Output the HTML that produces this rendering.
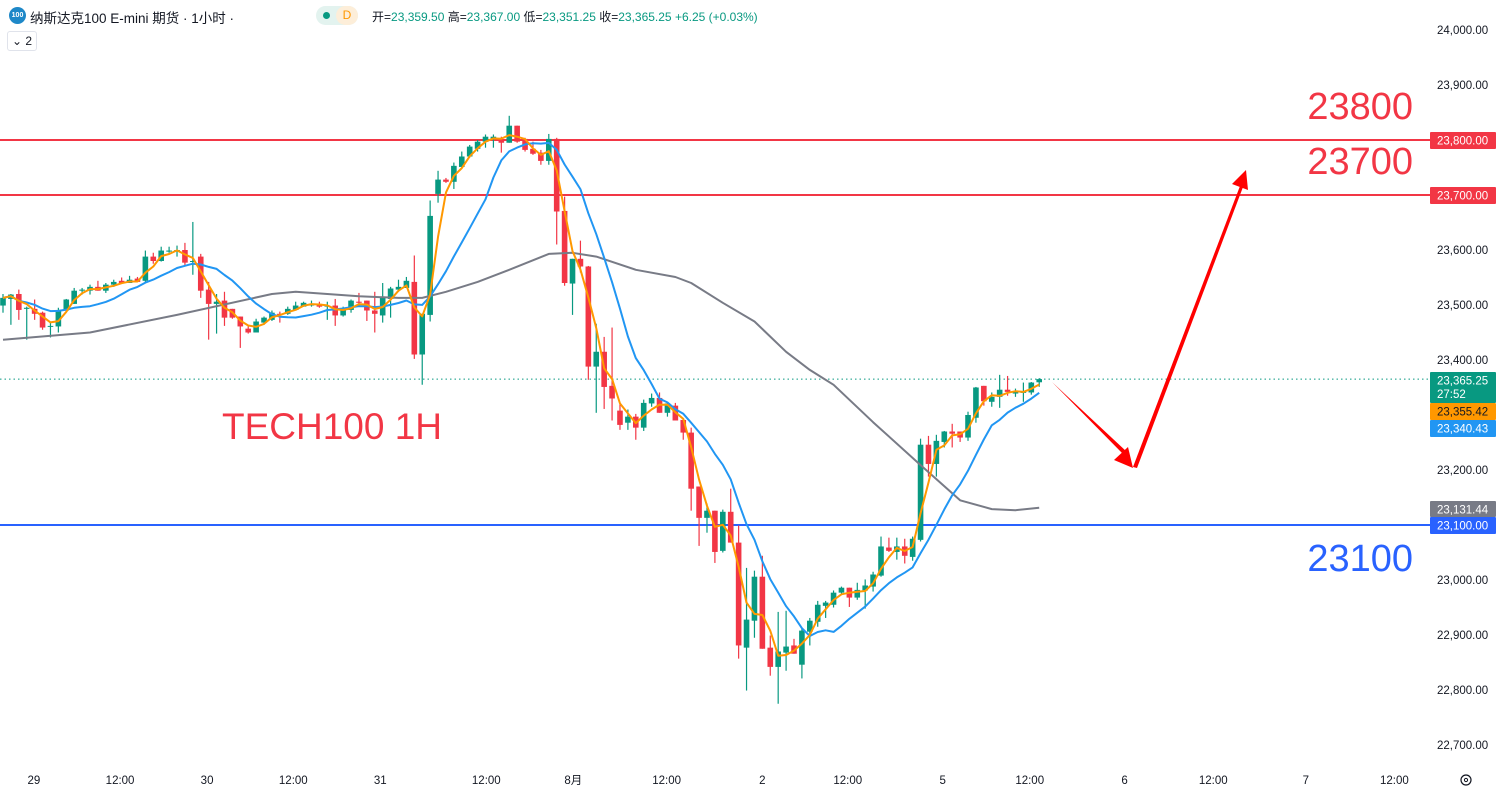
<!DOCTYPE html>
<html><head><meta charset="utf-8">
<style>
html,body{margin:0;padding:0;background:#fff;}
body{width:1498px;height:794px;overflow:hidden;position:relative;font-family:"Liberation Sans","Noto Sans CJK SC",sans-serif;}
svg{position:absolute;left:0;top:0;}
.hdr{position:absolute;left:0;top:0;height:30px;font-size:13px;color:#131722;white-space:nowrap;}
</style></head>
<body>
<svg id="chart" width="1498" height="794" xmlns="http://www.w3.org/2000/svg"></svg>

<div class="hdr">
  <div style="position:absolute;left:9px;top:7px;width:17px;height:17px;border-radius:50%;background:#1e88c8;color:#fff;font-size:7px;line-height:17px;text-align:center;font-weight:bold;">100</div>
  <div style="position:absolute;left:30px;top:7px;font-size:13.5px;">纳斯达克100 E-mini 期货 · 1小时 ·</div>
  <div style="position:absolute;left:316px;top:6px;width:42px;height:19px;border-radius:10px;background:#e3f3ef;">
    <div style="position:absolute;left:7px;top:6px;width:7px;height:7px;border-radius:50%;background:#089981;"></div>
    <div style="position:absolute;left:20px;top:0;width:22px;height:19px;border-radius:10px;background:#fdeed9;color:#ff9800;font-size:12px;line-height:19px;text-align:center;">D</div>
  </div>
  <div style="position:absolute;left:372px;top:8px;font-size:12px;">开=<span style="color:#089981">23,359.50</span> 高=<span style="color:#089981">23,367.00</span> 低=<span style="color:#089981">23,351.25</span> 收=<span style="color:#089981">23,365.25</span> <span style="color:#089981">+6.25 (+0.03%)</span></div>
</div>
<div style="position:absolute;left:7px;top:31px;width:28px;height:18px;border:1px solid #e0e3eb;border-radius:3px;font-size:12px;line-height:18px;text-align:center;color:#131722;">⌄ 2</div>

<script>
// ---- data ----
const opens=[23499,23511,23520,23493,23493,23486,23461,23461,23490,23502,23526,23526,23533,23526,23537,23544,23540,23548,23544,23588,23580,23597,23599,23600,23579,23588,23528,23502,23508,23493,23479,23457,23450,23468,23473,23484,23484,23491,23497,23499,23502,23497,23499,23481,23491,23506,23508,23490,23481,23511,23528,23531,23542,23410,23482,23702,23728,23724,23751,23770,23784,23797,23802,23800,23795,23826,23802,23784,23777,23762,23802,23671,23539,23584,23570,23388,23415,23353,23308,23286,23297,23277,23321,23331,23304,23317,23291,23268,23170,23113,23126,23053,23124,23068,22877,22926,23006,22877,22842,22868,22881,22846,22906,22924,22953,22955,22977,22986,22968,22981,22988,23008,23059,23051,23061,23042,23073,23246,23211,23251,23270,23270,23259,23295,23353,23324,23333,23346,23339,23341,23341,23359.5];
const closes=[23513,23519,23491,23495,23484,23459,23462,23491,23510,23526,23528,23533,23526,23537,23542,23540,23546,23542,23588,23580,23599,23599,23600,23577,23580,23526,23502,23506,23477,23477,23461,23450,23470,23477,23486,23482,23493,23499,23504,23502,23497,23499,23481,23493,23508,23504,23490,23484,23515,23530,23533,23544,23410,23484,23662,23728,23724,23753,23770,23788,23797,23806,23806,23795,23826,23797,23782,23775,23762,23802,23670,23540,23584,23570,23388,23415,23351,23330,23282,23297,23277,23322,23331,23304,23321,23290,23268,23166,23113,23126,23051,23124,23068,22881,22928,23006,22875,22842,22870,22879,22866,22908,22926,22955,22959,22977,22986,22968,22982,22990,23010,23061,23053,23061,23044,23075,23246,23211,23253,23270,23266,23259,23300,23350,23325,23333,23346,23342,23342,23342,23359,23365.25];
const highs=[23520,23520,23528,23497,23510,23488,23470,23495,23511,23531,23531,23537,23544,23540,23546,23550,23553,23551,23599,23595,23606,23606,23608,23613,23651,23593,23542,23520,23524,23493,23479,23461,23475,23479,23490,23488,23497,23506,23506,23508,23506,23506,23511,23497,23510,23522,23508,23524,23540,23533,23546,23551,23590,23484,23690,23744,23731,23759,23779,23791,23800,23810,23810,23806,23844,23826,23804,23797,23782,23811,23804,23697,23584,23617,23571,23466,23442,23459,23321,23310,23302,23328,23339,23341,23322,23322,23291,23277,23170,23139,23126,23128,23166,23099,23022,23017,23044,22899,22942,22944,22893,22913,22931,22962,22962,22981,22988,22986,22995,23001,23015,23079,23077,23077,23075,23079,23257,23262,23264,23271,23284,23270,23306,23351,23353,23341,23373,23371,23348,23359,23360,23367];
const lows=[23486,23464,23473,23437,23473,23455,23441,23450,23488,23502,23519,23519,23526,23522,23533,23539,23540,23542,23542,23575,23579,23595,23588,23571,23555,23513,23437,23448,23462,23475,23422,23448,23450,23464,23471,23468,23482,23491,23497,23497,23495,23473,23462,23479,23486,23497,23471,23450,23468,23477,23524,23531,23402,23355,23470,23686,23722,23711,23748,23768,23779,23786,23786,23777,23795,23795,23779,23773,23755,23755,23610,23535,23482,23559,23364,23304,23311,23290,23273,23273,23255,23271,23315,23304,23297,23290,23255,23126,23062,23086,23031,23050,23068,22857,22799,22895,22875,22826,22775,22835,22866,22821,22881,22915,22931,22950,22975,22951,22964,22948,22979,23006,23051,23037,23030,23035,23070,23188,23188,23241,23241,23251,23253,23286,23317,23315,23313,23335,23333,23324,23337,23351.25];
// slow moving average (bar index, value)
const grayIdx=[0,11,22,34,37,41,45,50,53,56,60,64,69,72,75,80,85,87,91,95,99,102,105,110,116,121,125,128,131];
const grayVal=[23437,23450,23482,23520,23524,23520,23516,23513,23513,23524,23542,23564,23593,23595,23588,23564,23551,23540,23504,23470,23415,23382,23355,23287,23209,23145,23129,23127,23131.44];
const yTicks=[24000,23900,23800,23700,23600,23500,23400,23300,23200,23100,23000,22900,22800,22700];
const xLabels=["29","12:00","30","12:00","31","12:00","8月","12:00","2","12:00","5","12:00","6","12:00","7","12:00"];
const xLabelBars=[3.9,14.8,25.8,36.7,47.7,61.1,72.1,83.9,96,106.8,118.8,129.8,141.8,153,164.7,175.9];
const levelsRed=[23800,23700];
const levelBlue=23100;

// ---- scales ----
const PLOT_R=1430;
function y(v){return 30+(24000-v)*0.55;}
function x(i){return 3+i*7.91;}
function fmt(v){return v.toLocaleString('en-US',{minimumFractionDigits:2,maximumFractionDigits:2});}

const svg=document.getElementById('chart');
const NS='http://www.w3.org/2000/svg';
function mk(tag,attrs,parent){const e=document.createElementNS(NS,tag);for(const k in attrs)e.setAttribute(k,attrs[k]);(parent||svg).appendChild(e);return e;}

// axis
const axisG=mk('g',{});


yTicks.forEach(v=>{
  const t=mk('text',{x:1437,y:y(v)+4,'font-size':11.5,fill:'#131722','font-family':'Liberation Sans, sans-serif'},axisG);
  t.textContent=fmt(v);
  
  
});
const xg=mk('g',{});


xLabels.forEach((s,k)=>{
  const t=mk('text',{x:x(xLabelBars[k]),y:784,'font-size':11.5,fill:'#131722','text-anchor':'middle','font-family':'Liberation Sans, Noto Sans CJK SC, sans-serif'},xg);
  t.textContent=s;
  
  
});
const gear=mk('g',{});


mk('circle',{cx:1466,cy:780,r:5,fill:'none',stroke:'#131722','stroke-width':1.2},gear);
mk('circle',{cx:1466,cy:780,r:1.6,fill:'none',stroke:'#131722','stroke-width':1},gear);

// level lines
levelsRed.forEach(v=>{
  const l=mk('line',{x1:0,x2:PLOT_R,y1:y(v),y2:y(v),stroke:'#f23645','stroke-width':2});
  
  
});
const bl=mk('line',{x1:0,x2:PLOT_R,y1:y(levelBlue),y2:y(levelBlue),stroke:'#2962ff','stroke-width':2});


const last=closes[closes.length-1];
const dl=mk('line',{x1:0,x2:PLOT_R,y1:y(last),y2:y(last),stroke:'#089981','stroke-width':1,'stroke-dasharray':'1.5 3'});



// candles
const cg=mk('g',{});


for(let i=0;i<opens.length;i++){
  const up=closes[i]>=opens[i];
  const col=up?'#089981':'#f23645';
  const cx=x(i);
  const w=mk('line',{x1:cx,x2:cx,y1:y(highs[i]),y2:y(lows[i]),stroke:col,'stroke-width':1.2},cg);
  
  
  const top=y(Math.max(opens[i],closes[i])),bot=y(Math.min(opens[i],closes[i]));
  const b=mk('rect',{x:cx-2.8,y:top,width:5.6,height:Math.max(1,bot-top),fill:col},cg);
  
  
}

// moving averages
function sma(n){return closes.map((c,i)=>{const s=closes.slice(Math.max(0,i-n+1),i+1);return s.reduce((a,b)=>a+b,0)/s.length;});}
function line(vals,idx,col,name){
  const d=vals.map((v,k)=>(k?'L':'M')+x(idx?idx[k]:k).toFixed(1)+','+y(v).toFixed(1)).join('');
  const p=mk('path',{d:d,fill:'none',stroke:col,'stroke-width':2,'stroke-linejoin':'round'});
  
  
}
line(grayVal,grayIdx,'#787b86','ma-slow-line');
const blue=sma(10), orange=sma(3);
line(blue,null,'#2196f3','ma-10-line');
line(orange,null,'#ff9800','ma-3-line');

// price tags
function tag(v,yy,h,bg,fg,name,sub){
  const g=mk('g',{});
  
  
  mk('rect',{x:1430,y:yy,width:66,height:h,fill:bg,rx:1},g);
  const t=mk('text',{x:1437,y:yy+12.5,'font-size':11.5,fill:fg,'font-family':'Liberation Sans, sans-serif'},g);
  t.textContent=fmt(v);
  if(sub){const s=mk('text',{x:1437,y:yy+26,'font-size':11.5,fill:fg,'font-family':'Liberation Sans, sans-serif'},g);s.textContent=sub;}
}
tag(levelsRed[0],y(levelsRed[0])-8,17,'#f23645','#fff','tag-23800');
tag(levelsRed[1],y(levelsRed[1])-8,17,'#f23645','#fff','tag-23700');
tag(last,372,31,'#089981','#fff','tag-last-price','27:52');
tag(orange[orange.length-1],403,17,'#ff9800','#131722','tag-ma-3');
tag(blue[blue.length-1],420,17,'#2196f3','#fff','tag-ma-10');
tag(grayVal[grayVal.length-1],501,16,'#787b86','#fff','tag-ma-slow');
tag(levelBlue,517,17,'#2962ff','#fff','tag-23100');

// annotations
function label(s,xx,yy,col,name,anchor,fs){
  const t=mk('text',{x:xx,y:yy,'font-size':fs||39,fill:col,'font-family':'Liberation Sans, sans-serif','text-anchor':anchor||'start'});
  t.textContent=s;
  
  
}
label('23800',1413,119,'#f23645','label-23800','end',38);
label('23700',1413,174,'#f23645','label-23700','end',38);
label('23100',1413,571,'#2962ff','label-23100','end',38);
label('TECH100 1H',222,439,'#f23645','chart-title-label','start',37);

// arrows
const ag=mk('g',{});


mk('polygon',{points:'1052,382 1124,455 1127,452',fill:'#ff0000'},ag);
mk('polygon',{points:'1133,468 1114,460 1128,447',fill:'#ff0000'},ag);
mk('polygon',{points:'1133,467 1240,186 1243,187 1137,468',fill:'#ff0000'},ag);
mk('polygon',{points:'1246,170 1248,190 1232,184',fill:'#ff0000'},ag);
</script>
</body></html>
